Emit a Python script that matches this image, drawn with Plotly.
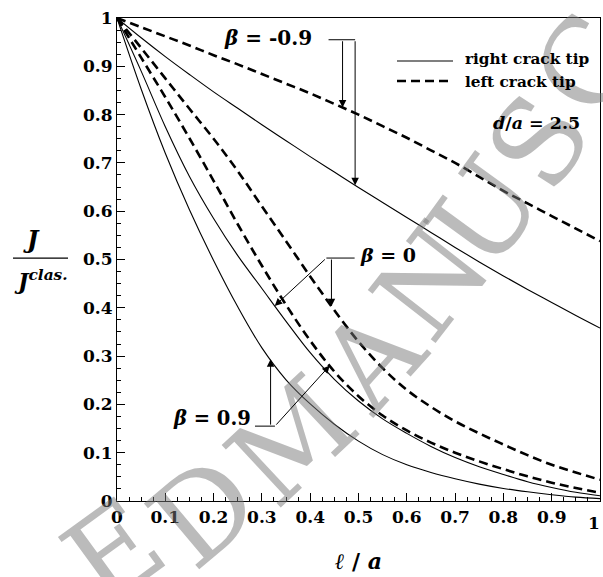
import numpy as np
import plotly.graph_objects as go

# Normalised crack length l/a
ell = [0, 0.05, 0.1, 0.15, 0.2, 0.25, 0.3, 0.35, 0.4, 0.45, 0.5,
       0.55, 0.6, 0.65, 0.7, 0.75, 0.8, 0.85, 0.9, 0.95, 1.0]

# J / J^clas. for d/a = 2.5
right_tip_bm09 = [1.0, 0.959, 0.920, 0.883, 0.847, 0.813, 0.779, 0.746, 0.713, 0.681, 0.649,
                  0.618, 0.587, 0.556, 0.525, 0.495, 0.466, 0.438, 0.411, 0.384, 0.358]
left_tip_bm09 = [1.0, 0.981, 0.962, 0.943, 0.923, 0.904, 0.884, 0.864, 0.844, 0.822, 0.800,
                 0.776, 0.752, 0.726, 0.700, 0.671, 0.642, 0.616, 0.590, 0.564, 0.538]
right_tip_b0 = [1.0, 0.890, 0.775, 0.672, 0.585, 0.508, 0.440, 0.372, 0.307, 0.252, 0.207,
                0.170, 0.140, 0.113, 0.090, 0.071, 0.055, 0.040, 0.028, 0.018, 0.011]
left_tip_b0 = [1.0, 0.938, 0.875, 0.812, 0.750, 0.683, 0.610, 0.538, 0.465, 0.395, 0.330,
               0.275, 0.230, 0.195, 0.165, 0.140, 0.117, 0.095, 0.075, 0.059, 0.044]
right_tip_b09 = [1.0, 0.853, 0.720, 0.603, 0.498, 0.402, 0.317, 0.251, 0.201, 0.159, 0.124,
                 0.096, 0.075, 0.059, 0.046, 0.035, 0.026, 0.019, 0.013, 0.008, 0.005]
left_tip_b09 = [1.0, 0.918, 0.836, 0.751, 0.663, 0.573, 0.487, 0.406, 0.332, 0.268, 0.217,
                0.177, 0.146, 0.121, 0.100, 0.082, 0.066, 0.051, 0.038, 0.027, 0.017]

tick_vals = [0, 0.1, 0.2, 0.3, 0.4, 0.5, 0.6, 0.7, 0.8, 0.9, 1]
y_tick_text = ["0", "0.1", "0.2", "0.3", "0.4", "0.5", "0.6", "0.7", "0.8", "0.9", "1"]
x_tick_text = ["0", "0.1", "0.2", "0.3", "0.4", "0.5", "0.6", "0.7", "0.8", "0.9", ""]

# page watermark letters along an arc
stamp_letters = ["E", "D", "M", "A", "N", "U", "S", "C"]

SERIF = "DejaVu Serif"
DASH = "9px,5px"
W, H = 603, 577
ML, MR, MT, MB = 117, 3, 18, 76

fig = go.Figure()

curves = [
    (right_tip_bm09, "solid"), (left_tip_bm09, "dashed"),
    (right_tip_b0, "solid"), (left_tip_b0, "dashed"),
    (right_tip_b09, "solid"), (left_tip_b09, "dashed"),
]
for vals, style in curves:
    if style == "solid":
        line = dict(color="black", width=1.1, shape="spline", smoothing=1)
    else:
        line = dict(color="black", width=2.6, dash=DASH, shape="spline", smoothing=1)
    fig.add_trace(go.Scatter(x=ell, y=vals, mode="lines", line=line,
                             showlegend=False, hoverinfo="skip"))


def on_curve(xa, vals):
    return float(np.interp(xa, ell, vals))


def px_to_paper(px, py):
    return (px - ML) / (W - ML - MR), (H - MB - py) / (H - MT - MB)


annotations = []
shapes = []

# watermark: letter centres (page pixels) and tilt
stamp_layout = [(114, 552, -36), (204, 512, -40), (292, 441, -43), (372, 358, -48),
                (431, 282, -52), (485, 213, -54), (539, 142, -57), (588, 64, -60)]
for ch, (px, py, ang) in zip(stamp_letters, stamp_layout):
    sx, sy = px_to_paper(px, py)
    annotations.append(dict(
        x=sx, y=sy, xref="paper", yref="paper", text=ch, showarrow=False,
        xanchor="center", yanchor="middle", textangle=ang,
        font=dict(family="DejaVu Serif", size=118, color="rgba(120,120,120,0.5)"),
    ))


def arrow(x_tail, y_tail, x_tip, y_tip):
    annotations.append(dict(
        x=x_tip, y=y_tip, ax=x_tail, ay=y_tail, xref="x", yref="y",
        axref="x", ayref="y", text="", showarrow=True, arrowhead=2,
        arrowsize=1.5, arrowwidth=1, arrowcolor="black", standoff=0,
    ))


def seg(x0, y0, x1, y1, width=1, dash=None):
    ln = dict(color="black", width=width)
    if dash:
        ln["dash"] = dash
    shapes.append(dict(type="line", xref="x", yref="y", x0=x0, y0=y0,
                       x1=x1, y1=y1, line=ln))


def label(x, y, text, size=22, xanchor="center", xref="x", yref="y"):
    annotations.append(dict(
        x=x, y=y, xref=xref, yref=yref, text=text, showarrow=False,
        xanchor=xanchor, yanchor="middle",
        font=dict(family=SERIF, size=size, color="black", weight="bold"),
    ))


# beta = -0.9 callout
label(0.3126, 0.958, "<i>β</i> = -0.9", size=20)
seg(0.438, 0.955, 0.493, 0.955)
arrow(0.467, 0.955, 0.467, on_curve(0.467, left_tip_bm09))
arrow(0.493, 0.955, 0.493, on_curve(0.493, right_tip_bm09))

# beta = 0 callout
label(0.562, 0.509, "<i>β</i> = 0", size=19)
seg(0.4335, 0.503, 0.492, 0.503)
arrow(0.4335, 0.503, 0.3265, on_curve(0.3265, right_tip_b0))
arrow(0.444, 0.503, 0.444, on_curve(0.444, left_tip_b0))

# beta = 0.9 callout
label(0.197, 0.170, "<i>β</i> = 0.9", size=19.5)
seg(0.2857, 0.155, 0.327, 0.155)
arrow(0.318, 0.155, 0.318, on_curve(0.318, right_tip_b09))
arrow(0.327, 0.155, 0.4404, on_curve(0.4404, left_tip_b09))

# legend
seg(0.5797, 0.911, 0.6957, 0.911, width=1.1)
seg(0.5797, 0.8696, 0.6857, 0.8696, width=2.6, dash=DASH)
label(0.7164, 0.915, "right crack tip", size=15.3, xanchor="left")
label(0.7164, 0.8675, "left crack tip", size=15.3, xanchor="left")
label(0.9627, 0.7826, "<i>d</i>/<i>a</i> = 2.5", size=17.5, xanchor="right")

# last x tick label, kept inside the page
label(1.004, -0.046, "1", size=17, xanchor="right", xref="paper", yref="paper")

# axis titles
label(0.501, -0.124, "<i>ℓ</i> / <i>a</i>", size=22, xref="paper", yref="paper")
label(-0.178, 0.5424, "<i>J</i>", size=24, xref="paper", yref="paper")
label(-0.157, 0.4576, "<i>J</i><sup><i>clas.</i></sup>", size=22,
      xref="paper", yref="paper")
shapes.append(dict(type="line", xref="paper", yref="paper",
                   x0=-0.2153, x1=-0.1014, y0=0.503, y1=0.503,
                   line=dict(color="black", width=1.2)))

axis_common = dict(
    range=[0, 1], tickvals=tick_vals,
    ticks="inside", ticklen=8, tickwidth=1, tickcolor="black",
    minor=dict(ticks="inside", ticklen=4, dtick=0.025, tick0=0,
               tickcolor="black", tickwidth=1),
    showline=True, linecolor="black", linewidth=1.2, mirror=True,
    showgrid=False, zeroline=False, automargin=False,
    tickfont=dict(family=SERIF, size=17, color="black", weight="bold"),
)

fig.update_layout(
    width=W, height=H,
    margin=dict(l=ML, r=MR, t=MT, b=MB),
    paper_bgcolor="white", plot_bgcolor="white",
    xaxis=dict(**axis_common, ticktext=x_tick_text),
    yaxis=dict(**axis_common, ticktext=y_tick_text),
    annotations=annotations, shapes=shapes,
    showlegend=False,
)

fig.write_html("out.html")
